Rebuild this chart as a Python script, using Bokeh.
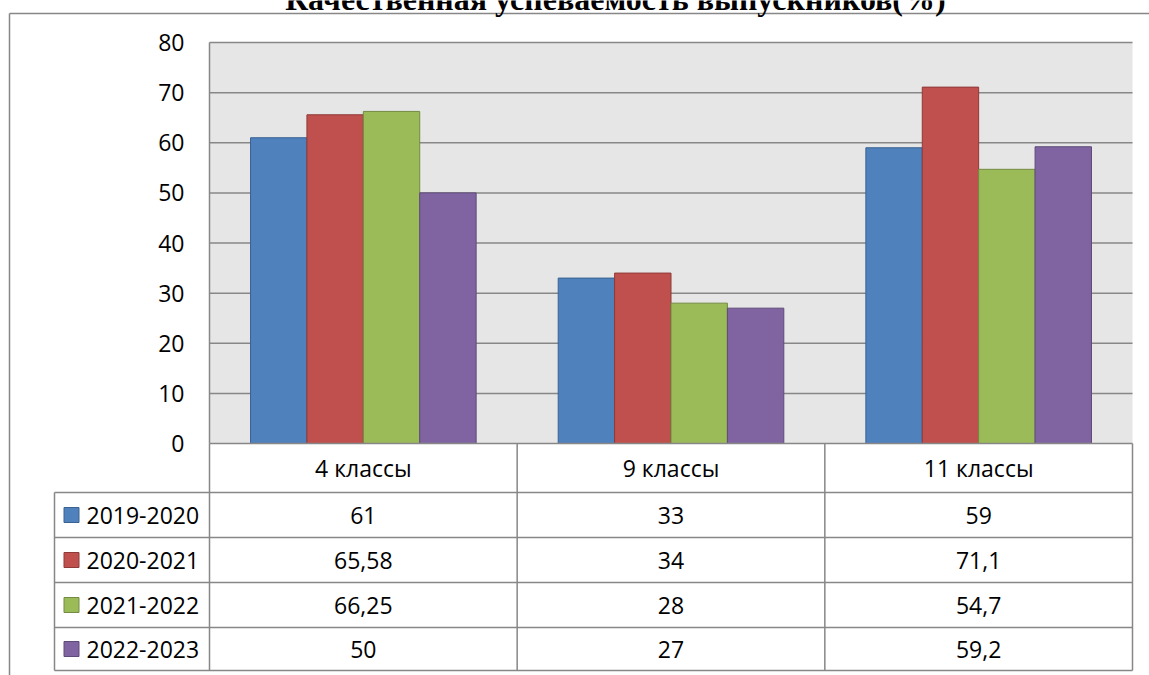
from bokeh.plotting import figure
from bokeh.models import Range1d
from bokeh.core.properties import value
from bokeh.embed import file_html
from bokeh.resources import INLINE

# ---------------- data ----------------
title_text = "Качественная успеваемость выпускников(%)"
categories = ["4 классы", "9 классы", "11 классы"]
series_names = ["2019-2020", "2020-2021", "2021-2022", "2022-2023"]
s2019_2020 = [61, 33, 59]
s2020_2021 = [65.58, 34, 71.1]
s2021_2022 = [66.25, 28, 54.7]
s2022_2023 = [50, 27, 59.2]
yticks = [0, 10, 20, 30, 40, 50, 60, 70, 80]

series = [s2019_2020, s2020_2021, s2021_2022, s2022_2023]
fill_colors = ["#4F81BD", "#C0504D", "#9BBB59", "#8064A2"]
line_colors = ["#3A6290", "#8E3A38", "#738B42", "#5E4A78"]

# ---------------- layout constants ----------------
OFF = 0
W, H = 1149, 675
PX0, PXS = 209.0, 923.0 / 3.0      # canvas x of category 0 and px per category
PY0, PYS = 443.0, 401.0 / 80.0     # canvas y of value 0 and px per unit


def X(page_x):
    return (page_x - OFF - PX0) / PXS


def Y(page_y):
    return (PY0 - (page_y - OFF)) / PYS


GRID = "#878787"
FONT = value("Open Sans")
FS = "23px"

p = figure(width=W, height=H, output_backend="svg", toolbar_location=None,
           x_range=Range1d(X(OFF), X(OFF + W)), y_range=Range1d(Y(OFF + H), Y(OFF)),
           x_axis_type=None, y_axis_type=None, min_border=0)
p.outline_line_color = None
p.grid.visible = False
p.background_fill_color = "white"
p.border_fill_color = "white"

ncat = len(categories)
top = yticks[-1]

# plot area background
p.quad(left=[0], right=[ncat], bottom=[0], top=[top], fill_color="#E6E6E6", line_color=None)

# gridlines
gt = yticks[1:]
p.segment(x0=[0] * len(gt), x1=[ncat] * len(gt), y0=gt, y1=gt, line_color=GRID, line_width=1.5)
# left border of plot area
p.segment(x0=[0], x1=[0], y0=[0], y1=[top], line_color=GRID, line_width=1.5)

# bars
bw = 56.4 / PXS
for j, vals in enumerate(series):
    xs = [i + 0.5 + (j - 1.5) * bw for i in range(ncat)]
    p.vbar(x=xs, top=vals, bottom=0, width=bw, fill_color=fill_colors[j],
           line_color=line_colors[j], line_width=1)

# y tick labels
p.text(x=[X(184)] * len(yticks), y=yticks, text=[str(t) for t in yticks],
       text_align="right", text_baseline="middle", text_font=FONT,
       text_font_size=FS, text_color="black")

# ---------------- data table ----------------
rows_py = [443, 492, 537, 582, 627, 670]
rows_y = [Y(v) for v in rows_py]
leg_left = X(54)

# verticals of category columns
p.segment(x0=list(range(ncat + 1)), x1=list(range(ncat + 1)),
          y0=[rows_y[0]] * (ncat + 1), y1=[rows_y[-1]] * (ncat + 1),
          line_color=GRID, line_width=1.5)
# legend column left border
p.segment(x0=[leg_left], x1=[leg_left], y0=[rows_y[1]], y1=[rows_y[-1]],
          line_color=GRID, line_width=1.5)
# horizontals
p.segment(x0=[0] + [leg_left] * (len(rows_y) - 1), x1=[ncat] * len(rows_y),
          y0=rows_y, y1=rows_y, line_color=GRID, line_width=1.5)

# header
hy = (rows_y[0] + rows_y[1]) / 2
p.text(x=[i + 0.5 for i in range(ncat)], y=[hy] * ncat, text=categories,
       text_align="center", text_baseline="middle", text_font=FONT,
       text_font_size=FS, text_color="black")


def fmt(v):
    return (str(v)).replace(".", ",")


for j, vals in enumerate(series):
    cy = (rows_y[j + 1] + rows_y[j + 2]) / 2
    p.text(x=[i + 0.5 for i in range(ncat)], y=[cy] * ncat, text=[fmt(v) for v in vals],
           text_align="center", text_baseline="middle", text_font=FONT,
           text_font_size=FS, text_color="black")
    p.scatter(x=[X(71)], y=[cy], marker="square", size=15, fill_color=fill_colors[j],
              line_color=line_colors[j], line_width=1)
    p.text(x=[X(86)], y=[cy], text=[series_names[j]], text_align="left",
           text_baseline="middle", text_font=FONT, text_font_size=FS, text_color="black")

# outer chart frame
p.segment(x0=[X(9), X(9)], x1=[X(9), X(1160)], y0=[Y(13), Y(13)], y1=[Y(700), Y(13)],
          line_color=GRID, line_width=1.5)

# title (top part is cut off, as in the reference)
p.text(x=[X(615)], y=[Y(-2)], text=[title_text], text_align="center",
       text_baseline="alphabetic", text_font=value("Liberation Serif"),
       text_font_style="bold", text_font_size="32px", text_color="black")

open("out.html", "w").write(file_html(p, INLINE))
